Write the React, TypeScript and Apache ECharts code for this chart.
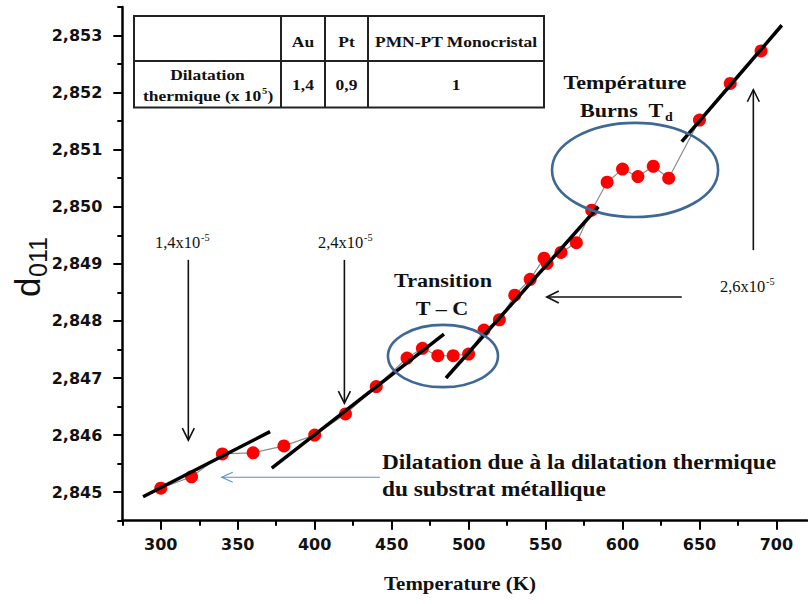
import React, { useEffect, useRef } from 'react';
import * as echarts from 'echarts';

// ---- data ----
const temperatures = [300, 320, 340, 360, 380, 400, 420, 440, 460, 470, 480, 490, 500, 510, 520, 530, 540, 549, 551, 560, 570, 580, 590, 600, 610, 620, 630, 650, 670, 690];
const dSpacing = [2.84507, 2.84527, 2.84567, 2.84569, 2.84581, 2.846, 2.84637, 2.84685, 2.84735, 2.84752, 2.84739, 2.84739, 2.84742, 2.84784, 2.84802, 2.84845, 2.84873, 2.8491, 2.84901, 2.8492, 2.84937, 2.84994, 2.85043, 2.85066, 2.85053, 2.85071, 2.8505, 2.85152, 2.85216, 2.85273];

// linear fits (black segments)
const fitAu = [[288.5, 2.84492], [371, 2.84606]];
const fitLow = [[372.1, 2.84542], [484, 2.84777]];
const fitMid = [[485.3, 2.847], [584.3, 2.85]];
const fitHigh = [[638.5, 2.85114], [703.5, 2.85318]];

const xMajorTicks = [300, 350, 400, 450, 500, 550, 600, 650, 700];
const xMinorTicks = [275, 325, 375, 425, 475, 525, 575, 625, 675];
const yMajorTicks = [2.845, 2.846, 2.847, 2.848, 2.849, 2.85, 2.851, 2.852, 2.853];
const yMinorTicks = [2.8445, 2.8455, 2.8465, 2.8475, 2.8485, 2.8495, 2.8505, 2.8515, 2.8525, 2.8535];

// annotations in data coordinates
const ellipseTC = { tMin: 447.6, tMax: 519.1, vMin: 2.84684, vMax: 2.84793 };
const ellipseBurns = { tMin: 554.2, tMax: 662.1, vMin: 2.84982, vMax: 2.85147 };
const arrowAu = { from: [317.9, 2.84907], to: [317.9, 2.84591] };
const arrowLow = { from: [419.3, 2.84907], to: [419.3, 2.84656] };
const arrowHigh = { from: [685, 2.84924], to: [685, 2.85205] };
const arrowMid = { from: [638.5, 2.84842], to: [550.8, 2.84842] };
const arrowSubstrate = { from: [442.4, 2.84526], to: [339.6, 2.84526] };

const SERIF = '"Liberation Serif", "Times New Roman", serif';
const SANS_LBL = '"DejaVu Sans", sans-serif';
const SANS_NAME = '"Liberation Sans", Arial, sans-serif';
const SX = 1.165;

const fmt = (v: number) => v.toFixed(3).replace('.', ',');

function arrowEls(p0: number[], p1: number[], color: string, width: number, headLen: number, headW: number) {
  const dx = p1[0] - p0[0];
  const dy = p1[1] - p0[1];
  const len = Math.hypot(dx, dy);
  const ux = dx / len, uy = dy / len;
  const nx = -uy, ny = ux;
  const bx = p1[0] - ux * headLen, by = p1[1] - uy * headLen;
  return [
    { type: 'line', z: 50, shape: { x1: p0[0], y1: p0[1], x2: p1[0], y2: p1[1] }, style: { stroke: color, lineWidth: width } },
    {
      type: 'polyline', z: 50,
      shape: { points: [[bx + nx * headW, by + ny * headW], [p1[0], p1[1]], [bx - nx * headW, by - ny * headW]] },
      style: { stroke: color, lineWidth: width, fill: 'none' },
    },
  ];
}

function txt(text: string, x: number, y: number, size: number, opts: any = {}) {
  return {
    type: 'text', x, y, z: 60,
    scaleX: opts.scaleX ?? SX,
    rotation: opts.rotation ?? 0,
    style: {
      text,
      fontFamily: opts.family ?? SERIF,
      fontWeight: opts.weight ?? 'bold',
      fontSize: size,
      fill: opts.color ?? '#111',
      align: opts.align ?? 'center',
      textAlign: opts.align ?? 'center',
      verticalAlign: opts.valign ?? 'middle',
      textVerticalAlign: opts.valign ?? 'middle',
    },
  };
}

export default function App() {
  const ref = useRef<HTMLDivElement>(null);
  useEffect(() => {
    const chart = echarts.init(ref.current!, null, { renderer: 'svg' });
    const points = temperatures.map((t, i) => [t, dSpacing[i]]);
    const fitSeries = (data: number[][]) => ({
      type: 'line', data, symbol: 'none', xAxisIndex: 0, yAxisIndex: 0, z: 5,
      lineStyle: { color: '#000', width: 3.5 }, silent: true,
    });
    chart.setOption({
      animation: false,
      backgroundColor: '#fff',
      grid: { left: 122.3, right: 0.8, top: 7, bottom: 83.3 },
      xAxis: [
        {
          type: 'value', min: 275, max: 720, position: 'bottom',
          axisLine: { show: true, onZero: false, lineStyle: { color: '#000', width: 2.5 } },
          axisTick: { show: true, customValues: xMajorTicks, length: 9, lineStyle: { color: '#000', width: 2 } },
          axisLabel: { customValues: xMajorTicks, margin: 16, color: '#111', fontFamily: SANS_LBL, fontWeight: 'bold', fontSize: 16 },
          splitLine: { show: false },
        },
        {
          type: 'value', min: 275, max: 720, position: 'bottom',
          axisLine: { show: false },
          axisTick: { show: true, customValues: xMinorTicks, length: 5, lineStyle: { color: '#000', width: 2 } },
          axisLabel: { show: false },
          splitLine: { show: false },
        },
      ],
      yAxis: [
        {
          type: 'value', min: 2.8445, max: 2.8535, position: 'left',
          axisLine: { show: true, onZero: false, lineStyle: { color: '#000', width: 2.5 } },
          axisTick: { show: true, customValues: yMajorTicks, length: 9, lineStyle: { color: '#000', width: 2 } },
          axisLabel: { customValues: yMajorTicks, margin: 20, color: '#111', fontFamily: SANS_LBL, fontWeight: 'bold', fontSize: 16, formatter: (v: number) => fmt(v) },
          splitLine: { show: false },
        },
        {
          type: 'value', min: 2.8445, max: 2.8535, position: 'left',
          axisLine: { show: false },
          axisTick: { show: true, customValues: yMinorTicks, length: 5, lineStyle: { color: '#000', width: 2 } },
          axisLabel: { show: false },
          splitLine: { show: false },
        },
      ],
      series: [
        {
          type: 'line', name: 'd011', data: points, xAxisIndex: 0, yAxisIndex: 0, z: 3,
          symbol: 'circle', symbolSize: 13,
          itemStyle: { color: '#ff0000' },
          lineStyle: { color: '#8c8c8c', width: 1.2 },
        },
        fitSeries(fitAu),
        fitSeries(fitLow),
        fitSeries(fitMid),
        fitSeries(fitHigh),
      ],
    });

    const px = (p: number[]) => chart.convertToPixel({ seriesIndex: 0 }, p) as number[];
    const ell = (e: any) => {
      const a = px([e.tMin, e.vMin]);
      const b = px([e.tMax, e.vMax]);
      return {
        type: 'ellipse', z: 40,
        shape: { cx: (a[0] + b[0]) / 2, cy: (a[1] + b[1]) / 2, rx: Math.abs(b[0] - a[0]) / 2, ry: Math.abs(b[1] - a[1]) / 2 },
        style: { fill: 'none', stroke: '#3f6896', lineWidth: 2.6 },
      };
    };
    const arr = (a: any, color = '#111', w = 1.6, hl = 12, hw = 6) => arrowEls(px(a.from), px(a.to), color, w, hl, hw);

    const tableStroke = { stroke: '#222', lineWidth: 2 };
    const table = [
      { type: 'rect', z: 60, shape: { x: 134, y: 16, width: 410, height: 91.5 }, style: { fill: '#fff', ...tableStroke } },
      { type: 'line', z: 61, shape: { x1: 134, y1: 61, x2: 544, y2: 61 }, style: tableStroke },
      { type: 'line', z: 61, shape: { x1: 281, y1: 16, x2: 281, y2: 107.5 }, style: tableStroke },
      { type: 'line', z: 61, shape: { x1: 325, y1: 16, x2: 325, y2: 107.5 }, style: tableStroke },
      { type: 'line', z: 61, shape: { x1: 368, y1: 16, x2: 368, y2: 107.5 }, style: tableStroke },
      txt('Au', 303, 42, 15),
      txt('Pt', 346.5, 42, 15),
      txt('PMN-PT Monocristal', 456, 42, 15),
      txt('Dilatation', 207.5, 75, 15),
      txt('thermique (x 10', 143, 96, 15, { align: 'left' }),
      txt('5', 262, 91, 9, { align: 'left' }),
      txt(')', 267.5, 96, 15, { align: 'left' }),
      txt('1,4', 303, 85, 15),
      txt('0,9', 346.5, 85, 15),
      txt('1', 456, 85, 15),
    ];

    const graphic: any[] = [
      ell(ellipseTC),
      ell(ellipseBurns),
      ...arr(arrowAu),
      ...arr(arrowLow),
      ...arr(arrowHigh),
      ...arr(arrowMid),
      ...arr(arrowSubstrate, '#5b8ed6', 1.1, 11, 5),
      ...table,
      txt('Transition', 443, 281, 19),
      txt('T – C', 442, 309, 19),
      txt('Température', 625, 83, 19),
      txt('Burns  T', 580, 111, 19, { align: 'left' }),
      txt('d', 665, 117, 12, { align: 'left' }),
      txt('1,4x10', 155, 243, 16, { align: 'left', weight: 'normal', scaleX: 1.03 }),
      txt('-5', 201, 238, 10, { align: 'left', weight: 'normal', scaleX: 1.03 }),
      txt('2,4x10', 318, 243, 16, { align: 'left', weight: 'normal', scaleX: 1.03 }),
      txt('-5', 364, 238, 10, { align: 'left', weight: 'normal', scaleX: 1.03 }),
      txt('2,6x10', 720, 287, 16, { align: 'left', weight: 'normal', scaleX: 1.03 }),
      txt('-5', 766, 282, 10, { align: 'left', weight: 'normal', scaleX: 1.03 }),
      txt('Dilatation due à la dilatation thermique', 382, 463, 20, { align: 'left' }),
      txt('du substrat métallique', 382, 490, 20, { align: 'left' }),
      txt('Temperature (K)', 460, 584, 18),
      txt('d', 45, 297, 35, { align: 'left', valign: 'bottom', rotation: Math.PI / 2, family: SANS_NAME, weight: 'normal', scaleX: 1 }),
      txt('011', 50, 277, 25, { align: 'left', valign: 'bottom', rotation: Math.PI / 2, family: SANS_NAME, weight: 'normal', scaleX: 1 }),
    ];
    chart.setOption({ graphic });
    return () => chart.dispose();
  }, []);
  return <div ref={ref} style={{ position: 'fixed', left: 0, top: 0, width: 808, height: 604, background: '#fff' }} />;
}
